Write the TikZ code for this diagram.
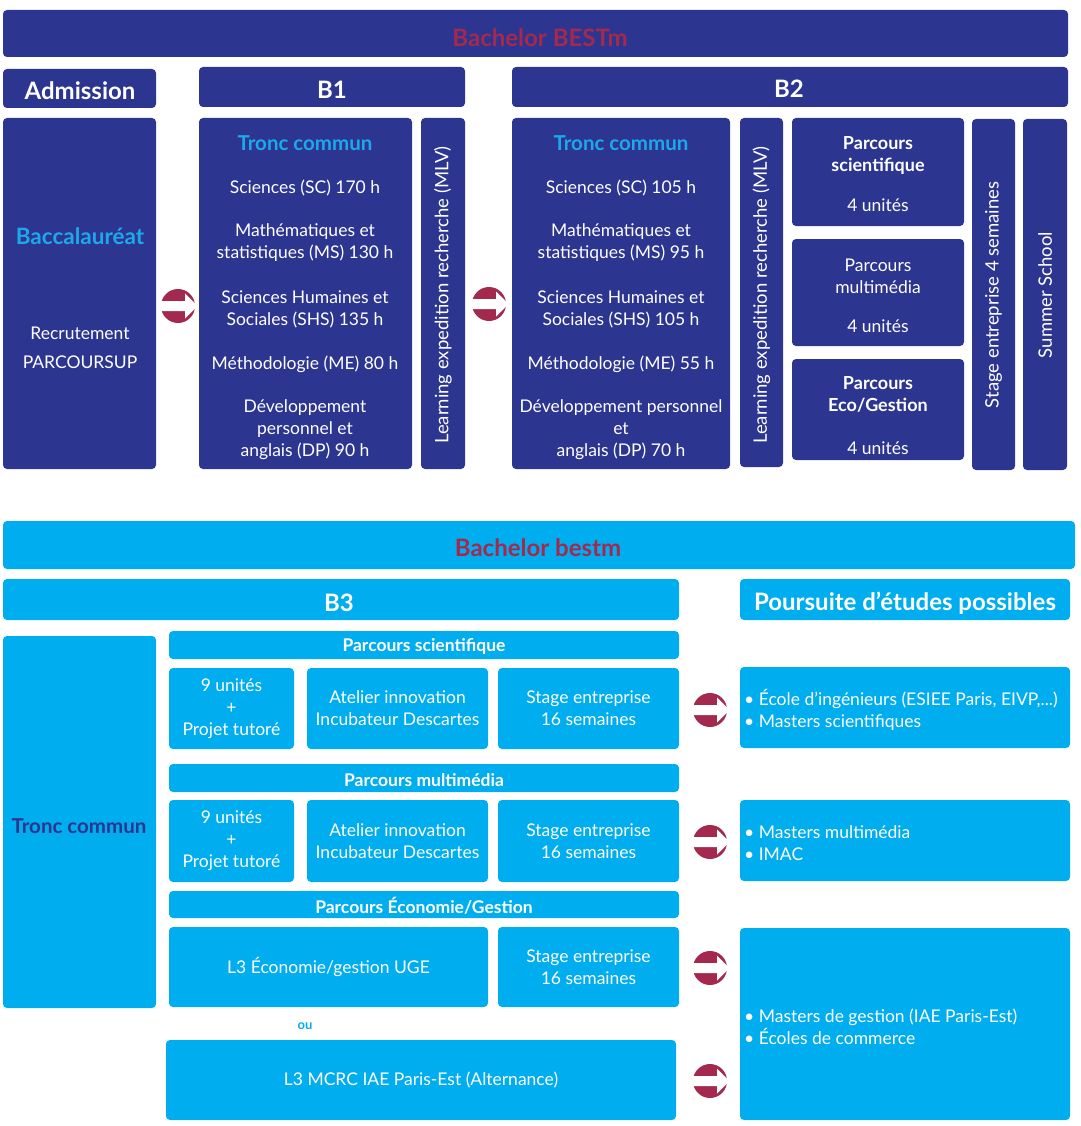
\documentclass[tikz,border=0pt]{standalone}
\usepackage{fontspec}
\setmainfont{Lato}
\definecolor{navy}{RGB}{44,53,144}
\definecolor{lblue}{RGB}{0,174,239}
\definecolor{tblue}{RGB}{30,168,236}
\definecolor{crimson}{RGB}{163,42,78}
\newcommand\bx[7]{\node[#1, minimum width={(#5-#3)*1pt}, minimum height={(#6-#4)*1pt}] (#2) at ({(#3+#5)/2},{(#4+#6)/2}) {#7};}
\newcommand\arr[3]{%
  \node[circle, fill=crimson, minimum size=34pt, inner sep=0pt, outer sep=0pt] (#1) at (#2,#3) {};
  \begin{scope}[shift={(#2,#3)}]
    \fill[white] (-18,-5) -- (7,-5) -- (7,-12.5) -- (19.5,0) -- (7,12.5) -- (7,5) -- (-18,5) -- cycle;
  \end{scope}}
\begin{document}
\begin{tikzpicture}[x=1pt,y=-1pt,
  box/.style={rounded corners=4pt, inner sep=0pt, outer sep=0pt, align=center, text=white},
  nb/.style={box, fill=navy},
  lb/.style={box, fill=lblue},
  body/.style={font=\fontsize{17.5}{22}\selectfont},
  txt/.style={body, text=white, align=center, inner sep=0pt},
  hd/.style={font=\fontsize{24}{28}\selectfont\bfseries, text=white, inner sep=0pt},
  bann/.style={font=\fontsize{24}{28}\selectfont\bfseries, text=crimson, inner sep=0pt},
  ttl/.style={font=\fontsize{20.5}{24}\selectfont\bfseries, text=tblue, inner sep=0pt},
  sub/.style={font=\fontsize{17.5}{20}\selectfont\bfseries, text=white, inner sep=0pt},
  vert/.style={font=\fontsize{18.5}{22}\selectfont, text=white, rotate=90, inner sep=0pt},
  ptxt/.style={body, text=white, align=left, inner sep=0pt, anchor=west}
]
\useasboundingbox (0,0) rectangle (1080,1126);

% ---------- top part ----------
\bx{nb}{banner1}{3}{10}{1068}{57}{}
\node[bann] (bt1) at (540,38) {Bachelor BESTm};
\bx{nb}{hadm}{3}{69}{156}{108}{}
\node[hd] (hadmt) at (80,91) {Admission};
\bx{nb}{hb1}{199}{67}{465}{107}{}
\node[hd] (hb1t) at (332,90) {B1};
\bx{nb}{hb2}{512}{67}{1068}{107}{}
\node[hd] (hb2t) at (789,89) {B2};

\bx{nb}{adm}{3}{118}{156}{469}{}
\node[font=\fontsize{22.5}{26}\selectfont\bfseries, text=tblue, inner sep=0pt] (bac) at (80,236) {Baccalauréat};
\node[txt] (recr) at (80,333) {Recrutement};
\node[txt] (psup) at (80,362) {PARCOURSUP};

\bx{nb}{tc1}{199}{118}{412}{469}{}
\node[ttl] (tc1t) at (305,143) {Tronc commun};
\node[txt] (tc1a) at (305,188) {Sciences (SC) 170 h};
\node[txt] (tc1b) at (305,243) {Mathématiques et\\statistiques (MS) 130 h};
\node[txt] (tc1c) at (305,309) {Sciences Humaines et\\Sociales (SHS) 135 h};
\node[txt] (tc1d) at (305,364) {Méthodologie (ME) 80 h};
\node[txt] (tc1e) at (305,430) {Développement\\personnel et\\anglais (DP) 90 h};

\bx{nb}{mlv1}{421}{118}{465}{469}{}
\node[vert] (mlv1t) at (443,295) {Learning expedition recherche (MLV)};

\bx{nb}{tc2}{512}{118}{730}{469}{}
\node[ttl] (tc2t) at (621,143) {Tronc commun};
\node[txt] (tc2a) at (621,188) {Sciences (SC) 105 h};
\node[txt] (tc2b) at (621,243) {Mathématiques et\\statistiques (MS) 95 h};
\node[txt] (tc2c) at (621,309) {Sciences Humaines et\\Sociales (SHS) 105 h};
\node[txt] (tc2d) at (621,364) {Méthodologie (ME) 55 h};
\node[txt] (tc2e) at (621,430) {Développement personnel\\et\\anglais (DP) 70 h};

\bx{nb}{mlv2}{740}{118}{783}{467}{}
\node[vert] (mlv2t) at (761.5,295) {Learning expedition recherche (MLV)};

\bx{nb}{pa1}{792}{118}{964}{226}{}
\node[txt, font=\fontsize{18}{22}\selectfont\bfseries] (pa1t) at (878,155.5) {Parcours\\scientifique};
\node[txt] (pa1u) at (878,205) {4 unités};
\bx{nb}{pa2}{792}{239}{964}{346}{}
\node[txt] (pa2t) at (878,276.5) {Parcours\\multimédia};
\node[txt] (pa2u) at (878,326) {4 unités};
\bx{nb}{pa3}{792}{359}{964}{460}{}
\node[txt, font=\fontsize{18}{22}\selectfont\bfseries] (pa3t) at (878,394.5) {Parcours\\Eco/Gestion};
\node[txt] (pa3u) at (878,448) {4 unités};

\bx{nb}{stg}{972}{119}{1015}{470}{}
\node[vert] (stgt) at (993.5,295) {Stage entreprise 4 semaines};
\bx{nb}{sum}{1023}{119}{1067}{470}{}
\node[vert] (sumt) at (1045,295) {Summer School};

\arr{ar1}{178}{306}
\arr{ar2}{489}{304}

% ---------- bottom part ----------
\bx{lb}{banner2}{3}{521}{1075}{569}{}
\node[bann] (bt2) at (538,548) {Bachelor bestm};
\bx{lb}{hb3}{3}{579}{679}{620}{}
\node[hd] (hb3t) at (339,603) {B3};
\bx{lb}{hpo}{740}{579}{1070}{620}{}
\node[hd] (hpot) at (905,603) {Poursuite d'études possibles};

\bx{lb}{tc3}{3}{636}{156}{1008}{}
\node[ttl, text=navy] (tc3t) at (79,826) {Tronc commun};

\bx{lb}{ph1}{169}{631}{679}{659}{}
\node[sub] (ph1t) at (424,646) {Parcours scientifique};
\bx{lb, body}{r1a}{169}{668}{294}{749}{9 unités\\+\\Projet tutoré}
\bx{lb, body}{r1b}{307}{668}{488}{749}{Atelier innovation\\Incubateur Descartes}
\bx{lb, body}{r1c}{498}{668}{679}{749}{Stage entreprise\\16 semaines}
\arr{ar3}{710}{710}
\bx{lb}{po1}{740}{667}{1070}{748}{}
\node[ptxt] (po1t) at (744,710) {• École d’ingénieurs (ESIEE Paris, EIVP,...)\\• Masters scientifiques};

\bx{lb}{ph2}{169}{764}{679}{792}{}
\node[sub] (ph2t) at (424,780) {Parcours multimédia};
\bx{lb, body}{r2a}{169}{800}{294}{882}{9 unités\\+\\Projet tutoré}
\bx{lb, body}{r2b}{307}{800}{488}{882}{Atelier innovation\\Incubateur Descartes}
\bx{lb, body}{r2c}{498}{800}{679}{882}{Stage entreprise\\16 semaines}
\arr{ar4}{710}{842}
\bx{lb}{po2}{740}{800}{1070}{881}{}
\node[ptxt] (po2t) at (744,843) {• Masters multimédia\\• IMAC};

\bx{lb}{ph3}{169}{891}{679}{918}{}
\node[sub] (ph3t) at (424,906) {Parcours Économie/Gestion};
\bx{lb, body}{r3a}{169}{927}{488}{1007}{L3 Économie/gestion UGE}
\bx{lb, body}{r3c}{498}{927}{679}{1007}{Stage entreprise\\16 semaines}
\arr{ar5}{710}{968}
\node[font=\fontsize{13}{15}\selectfont\bfseries, text=lblue, inner sep=0pt] (ou) at (305,1026) {ou};
\bx{lb, body}{r4}{166}{1040}{676}{1120}{L3 MCRC IAE Paris-Est (Alternance)}
\arr{ar6}{710}{1081}
\bx{lb}{po3}{740}{928}{1070}{1120}{}
\node[ptxt] (po3t) at (744,1027) {• Masters de gestion (IAE Paris-Est)\\• Écoles de commerce};
\end{tikzpicture}
\end{document}
